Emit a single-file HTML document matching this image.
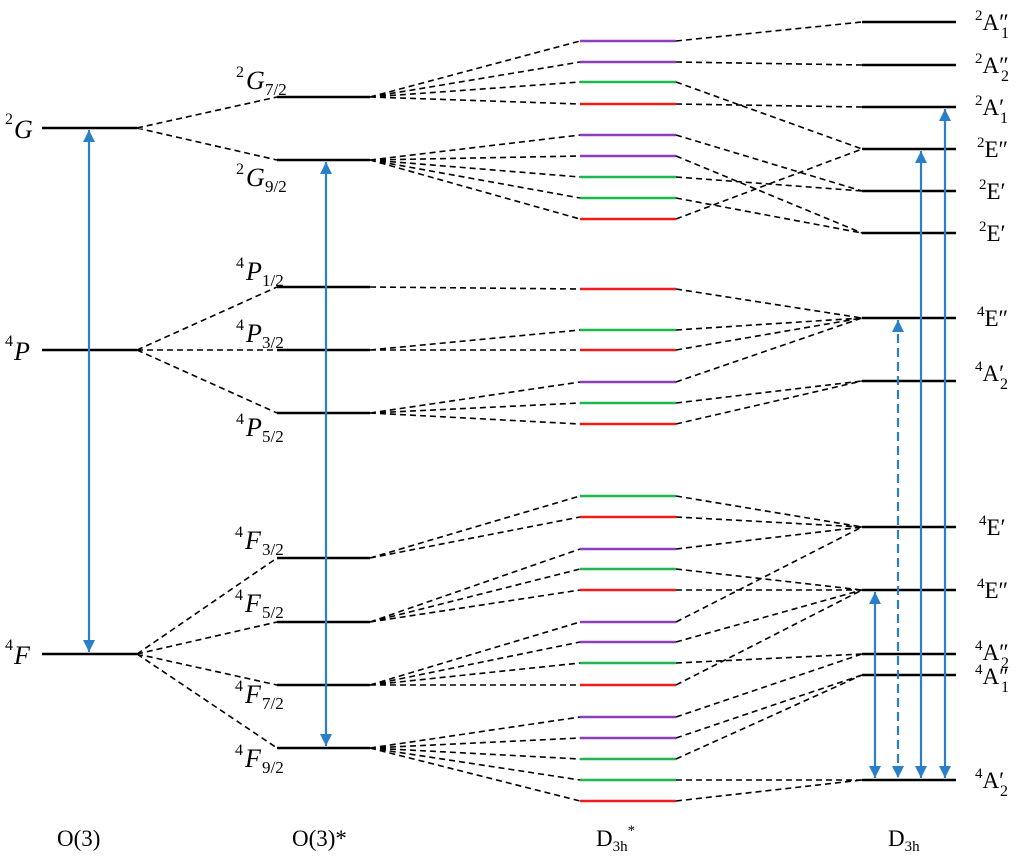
<!DOCTYPE html>
<html><head><meta charset="utf-8"><style>
body{margin:0;background:#fff}
svg{display:block}
.l{stroke:#000;stroke-width:2.5}
.d{stroke:#000;stroke-width:1.6;stroke-dasharray:6 4;fill:none}
.it{font-family:"Liberation Serif",serif;font-style:italic;font-size:26px}
.sp{font-family:"Liberation Serif",serif;font-size:16px}
.sb{font-family:"Liberation Serif",serif;font-size:17px}
.rm{font-family:"Liberation Serif",serif;font-size:23px}
.ar{stroke:#2a80c8;stroke-width:2.2}
</style></head><body>
<svg width="1024" height="860" xmlns="http://www.w3.org/2000/svg">
<defs>
<marker id="b" viewBox="0 0 10 10" markerWidth="12" markerHeight="12" refX="10" refY="5" orient="auto-start-reverse" markerUnits="userSpaceOnUse"><path d="M0,0 L10,5 L0,10 Z" fill="#2a80c8"/></marker>
</defs>
<g class="l">
<line x1="42" y1="128" x2="137" y2="128"/><line x1="42" y1="350" x2="137" y2="350"/><line x1="42" y1="654" x2="137" y2="654"/>
<line x1="277" y1="97" x2="370" y2="97"/><line x1="277" y1="160" x2="370" y2="160"/><line x1="277" y1="287" x2="370" y2="287"/><line x1="277" y1="350" x2="370" y2="350"/><line x1="277" y1="413" x2="370" y2="413"/><line x1="277" y1="558" x2="370" y2="558"/><line x1="277" y1="622" x2="370" y2="622"/><line x1="277" y1="685" x2="370" y2="685"/><line x1="277" y1="748" x2="370" y2="748"/>
<line x1="862" y1="22" x2="956" y2="22"/><line x1="862" y1="65" x2="956" y2="65"/><line x1="862" y1="107" x2="956" y2="107"/><line x1="862" y1="149" x2="956" y2="149"/><line x1="862" y1="191" x2="956" y2="191"/><line x1="862" y1="233" x2="956" y2="233"/><line x1="862" y1="318" x2="956" y2="318"/><line x1="862" y1="381" x2="956" y2="381"/><line x1="862" y1="527" x2="956" y2="527"/><line x1="862" y1="590" x2="956" y2="590"/><line x1="862" y1="654" x2="956" y2="654"/><line x1="862" y1="675" x2="956" y2="675"/><line x1="862" y1="780" x2="956" y2="780"/>
</g>
<g stroke-width="2.5">
<line x1="580" x2="676" y1="41" y2="41" stroke="#8b3fc0"/><line x1="580" x2="676" y1="62" y2="62" stroke="#8b3fc0"/><line x1="580" x2="676" y1="82" y2="82" stroke="#1cb84f"/><line x1="580" x2="676" y1="104" y2="104" stroke="#ee1c1c"/>
<line x1="580" x2="676" y1="135" y2="135" stroke="#8b3fc0"/><line x1="580" x2="676" y1="156" y2="156" stroke="#8b3fc0"/><line x1="580" x2="676" y1="177" y2="177" stroke="#1cb84f"/><line x1="580" x2="676" y1="198" y2="198" stroke="#1cb84f"/><line x1="580" x2="676" y1="219" y2="219" stroke="#ee1c1c"/>
<line x1="580" x2="676" y1="289" y2="289" stroke="#ee1c1c"/><line x1="580" x2="676" y1="330" y2="330" stroke="#1cb84f"/><line x1="580" x2="676" y1="350" y2="350" stroke="#ee1c1c"/>
<line x1="580" x2="676" y1="382" y2="382" stroke="#8b3fc0"/><line x1="580" x2="676" y1="403" y2="403" stroke="#1cb84f"/><line x1="580" x2="676" y1="424" y2="424" stroke="#ee1c1c"/>
<line x1="580" x2="676" y1="496" y2="496" stroke="#1cb84f"/><line x1="580" x2="676" y1="517" y2="517" stroke="#ee1c1c"/>
<line x1="580" x2="676" y1="549" y2="549" stroke="#8b3fc0"/><line x1="580" x2="676" y1="569" y2="569" stroke="#1cb84f"/><line x1="580" x2="676" y1="590" y2="590" stroke="#ee1c1c"/>
<line x1="580" x2="676" y1="622" y2="622" stroke="#8b3fc0"/><line x1="580" x2="676" y1="642" y2="642" stroke="#8b3fc0"/><line x1="580" x2="676" y1="663" y2="663" stroke="#1cb84f"/><line x1="580" x2="676" y1="685" y2="685" stroke="#ee1c1c"/>
<line x1="580" x2="676" y1="717" y2="717" stroke="#8b3fc0"/><line x1="580" x2="676" y1="738" y2="738" stroke="#8b3fc0"/><line x1="580" x2="676" y1="759" y2="759" stroke="#1cb84f"/><line x1="580" x2="676" y1="780" y2="780" stroke="#1cb84f"/><line x1="580" x2="676" y1="801" y2="801" stroke="#ee1c1c"/>
</g>
<path class="d" d="M137,128L277,97M137,128L277,160M137,350L277,287M137,350L277,350M137,350L277,413M137,654L277,558M137,654L277,622M137,654L277,685M137,654L277,748
M370,97L580,41M370,97L580,62M370,97L580,82M370,97L580,104
M370,160L580,135M370,160L580,156M370,160L580,177M370,160L580,198M370,160L580,219
M370,287L580,289M370,350L580,330M370,350L580,350M370,413L580,382M370,413L580,403M370,413L580,424
M370,558L580,496M370,558L580,517M370,622L580,549M370,622L580,569M370,622L580,590
M370,685L580,622M370,685L580,642M370,685L580,663M370,685L580,685
M370,748L580,717M370,748L580,738M370,748L580,759M370,748L580,780M370,748L580,801
M676,41L862,22M676,62L862,65M676,82L862,149M676,104L862,107M676,135L862,191M676,156L862,233M676,177L862,191M676,198L862,233M676,219L862,149
M676,289L862,318M676,330L862,318M676,350L862,318M676,382L862,318M676,403L862,381M676,424L862,381
M676,496L862,527M676,517L862,527M676,549L862,527M676,569L862,590M676,590L862,590M676,622L862,527M676,642L862,590M676,663L862,654M676,685L862,590
M676,717L862,654M676,738L862,675M676,759L862,675M676,780L862,780M676,801L862,780"/>
<line class="ar" x1="89" y1="130" x2="89" y2="652" marker-start="url(#b)" marker-end="url(#b)"/>
<line class="ar" x1="326" y1="162" x2="326" y2="746" marker-start="url(#b)" marker-end="url(#b)"/>
<line class="ar" x1="875" y1="592" x2="875" y2="778" marker-start="url(#b)" marker-end="url(#b)"/>
<line class="ar" x1="898" y1="320" x2="898" y2="778" stroke-dasharray="9 5" marker-start="url(#b)" marker-end="url(#b)"/>
<line class="ar" x1="921" y1="151" x2="921" y2="778" marker-start="url(#b)" marker-end="url(#b)"/>
<line class="ar" x1="945" y1="109" x2="945" y2="778" marker-start="url(#b)" marker-end="url(#b)"/>
<text class="sp" x="5" y="124">2</text><text class="it" x="14" y="138">G</text>
<text class="sp" x="5" y="346">4</text><text class="it" x="14" y="360">P</text>
<text class="sp" x="5" y="650">4</text><text class="it" x="14" y="664">F</text>
<text class="sp" x="236" y="77">2</text><text class="it" x="246" y="89">G</text><text class="sb" x="265" y="95">7/2</text>
<text class="sp" x="236" y="174">2</text><text class="it" x="246" y="186">G</text><text class="sb" x="265" y="192">9/2</text>
<text class="sp" x="236" y="268">4</text><text class="it" x="246" y="280">P</text><text class="sb" x="262" y="286">1/2</text>
<text class="sp" x="236" y="330">4</text><text class="it" x="246" y="342">P</text><text class="sb" x="262" y="348">3/2</text>
<text class="sp" x="236" y="424">4</text><text class="it" x="246" y="436">P</text><text class="sb" x="262" y="442">5/2</text>
<text class="sp" x="235" y="537">4</text><text class="it" x="245" y="549">F</text><text class="sb" x="262" y="555">3/2</text>
<text class="sp" x="235" y="600">4</text><text class="it" x="245" y="612">F</text><text class="sb" x="262" y="618">5/2</text>
<text class="sp" x="235" y="691">4</text><text class="it" x="245" y="703">F</text><text class="sb" x="262" y="709">7/2</text>
<text class="sp" x="235" y="755">4</text><text class="it" x="245" y="767">F</text><text class="sb" x="262" y="773">9/2</text>
<g class="rm">
<text x="975" y="30"><tspan font-size="15" dy="-10">2</tspan><tspan dy="10">A″</tspan></text><text class="sp" x="1001" y="38">1</text>
<text x="975" y="73"><tspan font-size="15" dy="-10">2</tspan><tspan dy="10">A″</tspan></text><text class="sp" x="1001" y="81">2</text>
<text x="975" y="115"><tspan font-size="15" dy="-10">2</tspan><tspan dy="10">A′</tspan></text><text class="sp" x="1000" y="123">1</text>
<text x="977" y="157"><tspan font-size="15" dy="-10">2</tspan><tspan dy="10">E″</tspan></text>
<text x="979" y="199"><tspan font-size="15" dy="-10">2</tspan><tspan dy="10">E′</tspan></text>
<text x="979" y="241"><tspan font-size="15" dy="-10">2</tspan><tspan dy="10">E′</tspan></text>
<text x="977" y="326"><tspan font-size="15" dy="-10">4</tspan><tspan dy="10">E″</tspan></text>
<text x="975" y="381"><tspan font-size="15" dy="-10">4</tspan><tspan dy="10">A′</tspan></text><text class="sp" x="1000" y="389">2</text>
<text x="979" y="535"><tspan font-size="15" dy="-10">4</tspan><tspan dy="10">E′</tspan></text>
<text x="977" y="598"><tspan font-size="15" dy="-10">4</tspan><tspan dy="10">E″</tspan></text>
<text x="975" y="660"><tspan font-size="15" dy="-10">4</tspan><tspan dy="10">A″</tspan></text><text class="sp" x="1001" y="668">2</text>
<text x="975" y="684"><tspan font-size="15" dy="-10">4</tspan><tspan dy="10">A″</tspan></text><text class="sp" x="1001" y="692">1</text>
<text x="975" y="788"><tspan font-size="15" dy="-10">4</tspan><tspan dy="10">A′</tspan></text><text class="sp" x="1000" y="796">2</text>
</g>
<text class="rm" x="57" y="846">O(3)</text>
<text class="rm" x="292" y="846">O(3)*</text>
<text class="rm" x="596" y="846">D<tspan font-size="15" dy="5">3h</tspan><tspan font-size="15" dy="-16">*</tspan></text>
<text class="rm" x="888" y="846">D<tspan font-size="15" dy="5">3h</tspan></text>
</svg>
</body></html>
